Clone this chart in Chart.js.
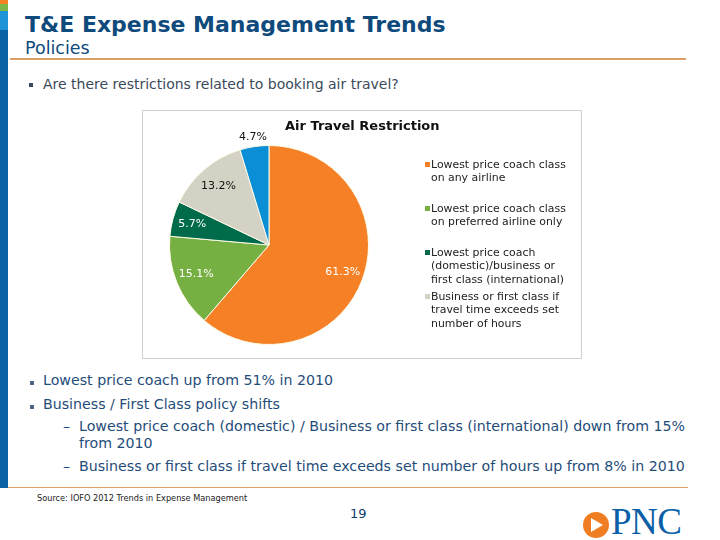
<!DOCTYPE html>
<html>
<head>
<meta charset="utf-8">
<script src="https://cdn.jsdelivr.net/npm/chart.js@4"></script>
<style>
  body { margin: 0; width: 720px; height: 540px; background: #fff; position: relative; overflow: hidden; font-family: "DejaVu Sans", sans-serif; }
  .abs { position: absolute; white-space: nowrap; }
  #sidebar { left: 0; top: 0; width: 8px; height: 488px; background: #0b62a4; }
  #title { left: 25px; top: 12px; font-size: 22px; font-weight: bold; color: #0f4a7c; }
  #subtitle { left: 25px; top: 38px; font-size: 17.5px; color: #0f4a7c; }
  .rule { height: 2px; background: #d9a066; }
  #q { left: 43px; top: 76px; font-size: 14px; color: #3b4a5a; }
  .sq { position: absolute; width: 4px; height: 4px; background: #3b4a5a; }
  #box { left: 142px; top: 110px; width: 438px; height: 247px; border: 1px solid #d0d0d0; }
  #chartTitle { left: 285px; top: 118px; font-size: 13px; font-weight: bold; color: #111; }
  #legend { left: 425px; top: 158px; font-size: 10.9px; color: #222; line-height: 13.3px; }
  .item { position: relative; padding-left: 6px; }
  .item i { position: absolute; left: 0; top: 4px; width: 5px; height: 5px; }
  .notes { font-size: 14.2px; color: #1f4d7a; }
  #src { left: 37px; top: 493px; font-size: 8.2px; color: #222; }
  #page { left: 350px; top: 506px; font-size: 13px; color: #0f3f6e; }
  #logo { left: 583px; top: 512px; width: 26px; height: 26px; border-radius: 50%; background: #ef7d22; }
  #logo b { position: absolute; left: 8px; top: 6px; width: 0; height: 0; border-top: 7px solid transparent; border-bottom: 7px solid transparent; border-left: 12px solid #fff; }
  #pnc { left: 611px; top: 500px; font-family: "Liberation Serif", serif; font-size: 37px; color: #0a5fa6; letter-spacing: -0.5px; }
</style>
</head>
<body>
<div class="abs" id="sidebar"></div>
<div class="abs" style="left:0;top:0;width:8px;height:4px;background:#f58025"></div>
<div class="abs" style="left:0;top:4px;width:8px;height:7px;background:#7ab648"></div>
<div class="abs" style="left:0;top:11px;width:8px;height:19px;background:#1c94d6"></div>
<div class="abs" id="title">T&amp;E Expense Management Trends</div>
<div class="abs" id="subtitle">Policies</div>
<div class="abs rule" style="left:10px;top:58px;width:676px;"></div>

<div class="sq" style="left:29px;top:83px"></div>
<div class="abs" id="q">Are there restrictions related to booking air travel?</div>

<div class="abs" id="box"><canvas id="myChart" width="438" height="247"></canvas></div>
<div class="abs" id="chartTitle">Air Travel Restriction</div>
<div class="abs" id="legend"></div>

<div class="sq" style="left:30px;top:381px;background:#4a6685"></div>
<div class="abs notes" style="left:43px;top:372px">Lowest price coach up from 51% in 2010</div>
<div class="sq" style="left:30px;top:405px;background:#4a6685"></div>
<div class="abs notes" style="left:43px;top:396px">Business / First Class policy shifts</div>
<div class="abs notes" style="left:63px;top:418px">–</div>
<div class="abs notes" style="left:79px;top:418px;line-height:17px">Lowest price coach (domestic) / Business or first class (international) down from 15%<br>from 2010</div>
<div class="abs notes" style="left:63px;top:458px">–</div>
<div class="abs notes" style="left:79px;top:458px">Business or first class if travel time exceeds set number of hours up from 8% in 2010</div>

<div class="abs rule" style="left:8px;top:487px;width:680px;height:1px;"></div>
<div class="abs" id="src">Source: IOFO 2012 Trends in Expense Management</div>
<div class="abs" id="page">19</div>
<div class="abs" id="logo"><b></b></div>
<div class="abs" id="pnc">PNC</div>

<script>
const categories = [
    ["Lowest price coach class", "on any airline"],
    ["Lowest price coach class", "on preferred airline only"],
    ["Lowest price coach", "(domestic)/business or", "first class (international)"],
    ["Business or first class if", "travel time exceeds set", "number of hours"],
    ["Other"]
];
const values = [61.3, 15.1, 5.7, 13.2, 4.7];
const sliceColors = ["#f58025", "#76b043", "#006b4a", "#d4d1c5", "#0a8fd6"];
const labelColors = ["#fff", "#fff", "#fff", "#111", "#111"];
const labelRadius = [0.79, 0.79, 0.8, 0.78, 1.1];
const legendGaps = [44, 44, 44, 44];

// percent labels on the slices
const sliceLabels = {
    id: "sliceLabels",
    afterDatasetsDraw(chart) {
        const ctx = chart.ctx;
        const meta = chart.getDatasetMeta(0);
        ctx.save();
        ctx.font = "11px 'DejaVu Sans'";
        ctx.textAlign = "center";
        ctx.textBaseline = "middle";
        meta.data.forEach((arc, i) => {
            const mid = (arc.startAngle + arc.endAngle) / 2;
            const r = arc.outerRadius * labelRadius[i];
            ctx.fillStyle = labelColors[i];
            ctx.fillText(values[i].toFixed(1) + "%", arc.x + Math.cos(mid) * r, arc.y + Math.sin(mid) * r);
        });
        ctx.restore();
    }
};

new Chart("myChart", {
    type: "pie",
    data: {
        labels: categories.map(c => c.join(" ")),
        datasets: [{
            data: values,
            backgroundColor: sliceColors,
            borderColor: "#fffbe8",
            borderWidth: 1
        }]
    },
    options: {
        responsive: false,
        animation: false,
        layout: { padding: { left: 26, right: 212, top: 34, bottom: 13 } },
        plugins: {
            legend: { display: false },
            tooltip: { enabled: false }
        }
    },
    plugins: [sliceLabels]
});

// legend, first four categories only (as in the slide)
const legend = document.getElementById("legend");
categories.slice(0, 4).forEach((c, i) => {
    const div = document.createElement("div");
    div.className = "item";
    div.style.height = legendGaps[i] + "px";
    div.innerHTML = '<i style="background:' + sliceColors[i] + '"></i>' + c.join("<br>");
    legend.appendChild(div);
});
</script>
</body>
</html>
